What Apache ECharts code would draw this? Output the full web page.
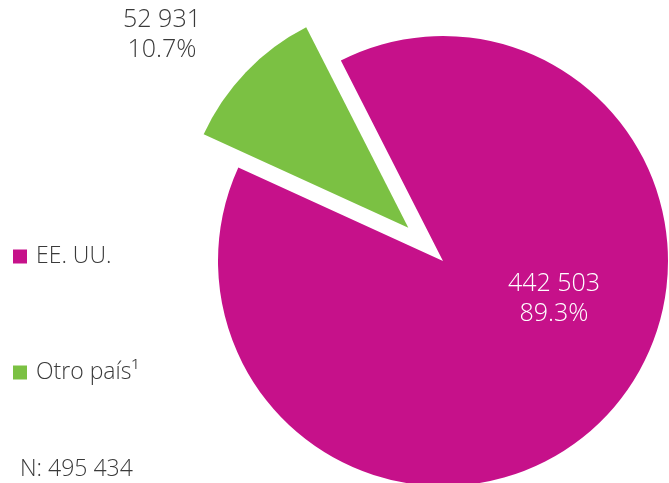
<!DOCTYPE html>
<html>
<head>
<meta charset="utf-8">
<script src="https://cdn.jsdelivr.net/npm/echarts@6/dist/echarts.min.js"></script>
<style>
  html, body { margin: 0; padding: 0; background: #fff; }
  #chart { width: 669px; height: 483px; }
</style>
</head>
<body>
<div id="chart"></div>
<script>
const categories = ['EE. UU.', 'Otro país¹']
const values = [442503, 52931]
const colors = ['#c6118a', '#7bc143']
const totalLabel = 'N: 495 434'

// label anchor points (centre of each two-line label)
const labelSpots = [[554, 299], [162, 35]]

const fmt = n => String(n).replace(/\B(?=(\d{3})+(?!\d))/g, ' ')
const total = values.reduce((a, b) => a + b, 0)
const labelText = i => fmt(values[i]) + '\n' + (values[i] / total * 100).toFixed(1) + '%'

const FONT = 'Open Sans'
const TXT = '#3a3a3a'

const chart = echarts.init(document.getElementById('chart'))

const option = {
  animation: false,
  color: colors,
  textStyle: { fontFamily: FONT },
  title: {
    text: totalLabel,
    left: 15,
    top: 453,
    textStyle: { fontFamily: FONT, fontSize: 23, fontWeight: 300, color: TXT }
  },
  legend: {
    orient: 'vertical',
    left: 13,
    top: 245,
    padding: 0,
    icon: 'rect',
    itemWidth: 14,
    itemHeight: 14,
    itemGap: 93,
    textStyle: { fontFamily: FONT, fontSize: 23, fontWeight: 300, color: TXT, padding: [0, 0, 0, 4] },
    data: categories
  },
  // the exploded slice's label ignores labelLayout, so it is placed here
  graphic: [{
    type: 'text',
    x: labelSpots[1][0],
    y: labelSpots[1][1],
    silent: true,
    style: {
      text: labelText(1),
      fill: TXT,
      font: '300 25px "Open Sans"',
      lineHeight: 30,
      align: 'center',
      verticalAlign: 'middle'
    }
  }],
  series: [{
    type: 'pie',
    center: [443, 261],
    radius: 225,
    startAngle: 117,
    selectedMode: 'single',
    selectedOffset: 48,
    emphasis: { disabled: true },
    labelLine: { show: false },
    label: {
      show: true,
      position: 'inside',
      fontFamily: FONT,
      fontSize: 25,
      fontWeight: 300,
      lineHeight: 30,
      color: '#ffffff',
      align: 'center',
      verticalAlign: 'middle',
      formatter: p => labelText(p.dataIndex)
    },
    data: categories.map((name, i) => ({
      name,
      value: values[i],
      selected: i === 1,
      label: { show: i === 0 }
    })),
    labelLayout: params => ({
      x: labelSpots[params.dataIndex][0],
      y: labelSpots[params.dataIndex][1],
      align: 'center',
      verticalAlign: 'middle'
    })
  }]
}

chart.setOption(option)
</script>
</body>
</html>
